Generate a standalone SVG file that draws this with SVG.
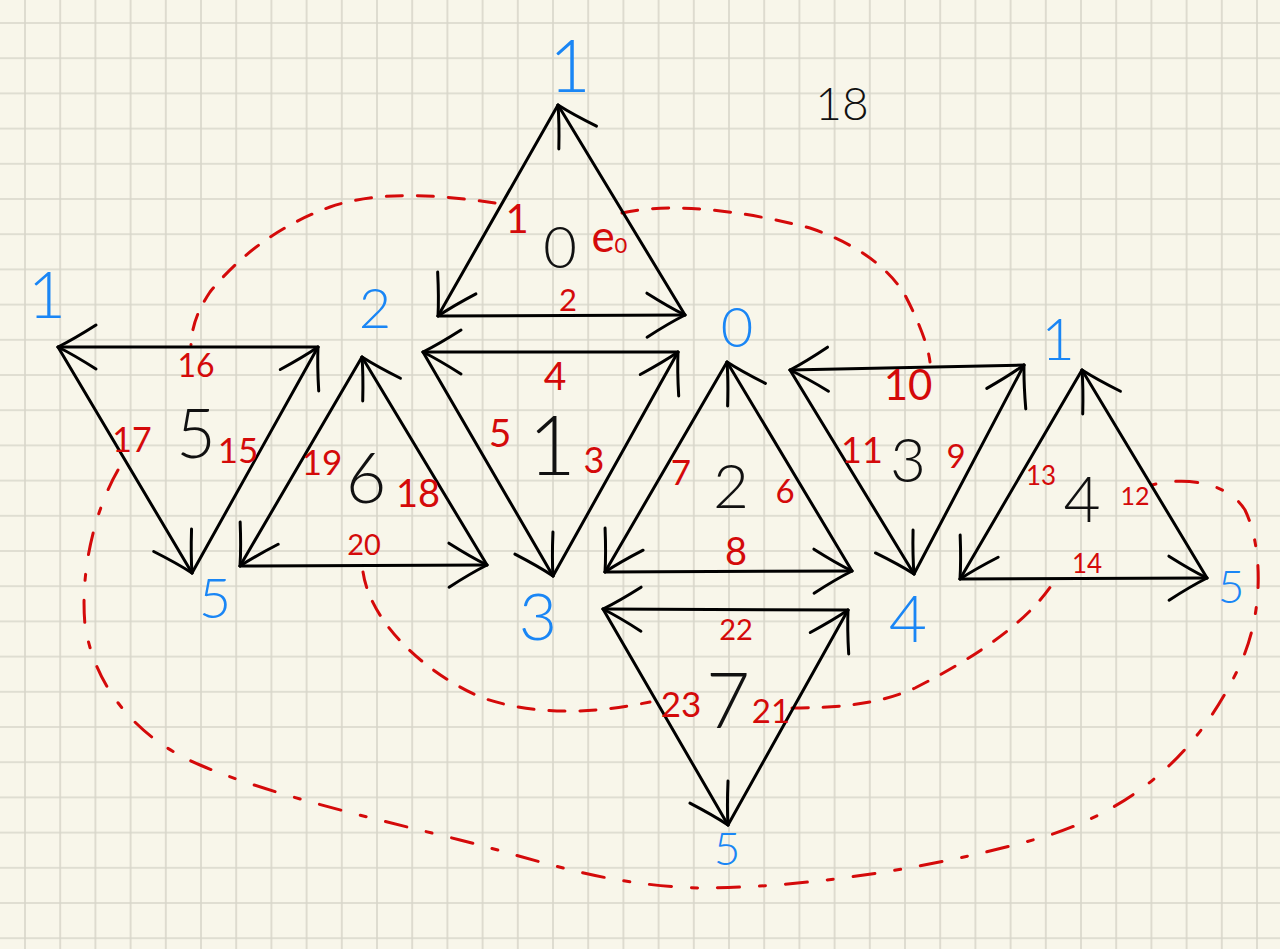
<svg xmlns="http://www.w3.org/2000/svg" width="1280" height="949" viewBox="0 0 1280 949">
<defs>
<pattern id="grid" patternUnits="userSpaceOnUse" x="7.4" y="5.4" width="35.2" height="35.2">
<path d="M17.6 0V35.2M0 17.6H35.2" stroke="#d8d6ca" stroke-width="1.6" fill="none"/>
</pattern>
<marker id="ah" markerUnits="userSpaceOnUse" markerWidth="90" markerHeight="90" viewBox="-45 -45 90 90" refX="0" refY="0" orient="auto" overflow="visible">
<path d="M-38,-22 Q-16,-8 0,0 Q-16,8 -38,22" fill="none" stroke="#000" stroke-width="3" stroke-linecap="round" stroke-linejoin="round"/>
</marker>
<style>
.e{stroke:#000;stroke-width:3;fill:none;stroke-linecap:round;marker-end:url(#ah)}
.d{stroke:#d40a0a;stroke-width:3;fill:none;stroke-linecap:round;stroke-dasharray:16 15}
.id{font-family:Lato,"Liberation Sans",Arial,sans-serif;font-weight:300;fill:#111;text-anchor:middle}
.v{font-family:Lato,"Liberation Sans",Arial,sans-serif;font-weight:300;fill:#1a86f5;text-anchor:middle}
.r{font-family:Lato,"Liberation Sans",Arial,sans-serif;font-weight:400;fill:#d40a0a;text-anchor:middle}
</style>
</defs>
<rect width="1280" height="949" fill="#f8f6ea"/>
<rect width="1280" height="949" fill="url(#grid)"/>

<g id="connectors">
<path class="d" d="M495,203 C440,195 380,190 330,207 C280,225 240,255 210,292 C198,310 192,325 191,345"/>
<path class="d" d="M622,213 C680,200 760,215 810,228 C860,245 890,270 905,295 C918,320 928,345 930,362"/>
<path class="d" d="M118,470 C95,510 80,570 85,625 C95,690 140,740 200,765 C270,795 380,820 460,840 C540,860 600,885 700,888 C820,888 960,862 1050,835 C1140,805 1200,750 1240,665 C1265,610 1262,545 1245,510 C1230,485 1190,475 1152,485" style="stroke-dasharray:22 20 6 20"/>
<path class="d" d="M363,572 C370,620 420,670 480,697 C540,718 600,712 650,702"/>
<path class="d" d="M792,708 C840,708 880,704 915,688 C980,655 1030,620 1055,580"/>
</g>

<g id="tri0">
<line class="e" x1="558" y1="105" x2="438" y2="316"/>
<line class="e" x1="438" y1="316" x2="685" y2="315"/>
<line class="e" x1="685" y1="315" x2="558" y2="105"/>
<text class="id" x="560" y="268" font-size="58">0</text>
</g>

<g id="tri1">
<line class="e" x1="678" y1="352" x2="423" y2="352"/>
<line class="e" x1="423" y1="352" x2="553" y2="576"/>
<line class="e" x1="553" y1="576" x2="678" y2="352"/>
<text class="id" x="552" y="475" font-size="82">1</text>
</g>

<g id="tri2">
<line class="e" x1="852" y1="571" x2="727" y2="362"/>
<line class="e" x1="727" y1="362" x2="605" y2="572"/>
<line class="e" x1="605" y1="572" x2="852" y2="571"/>
<text class="id" x="731" y="508" font-size="62">2</text>
</g>

<g id="tri3">
<line class="e" x1="1024" y1="365" x2="790" y2="370"/>
<line class="e" x1="790" y1="370" x2="914" y2="574"/>
<line class="e" x1="914" y1="574" x2="1024" y2="365"/>
<text class="id" x="908" y="482" font-size="62">3</text>
</g>

<g id="tri4">
<line class="e" x1="1207" y1="578" x2="1082" y2="370"/>
<line class="e" x1="1082" y1="370" x2="960" y2="579"/>
<line class="e" x1="960" y1="579" x2="1207" y2="578"/>
<text class="id" x="1082" y="522" font-size="64">4</text>
</g>

<g id="tri5">
<line class="e" x1="318" y1="347" x2="58" y2="347"/>
<line class="e" x1="58" y1="347" x2="192" y2="573"/>
<line class="e" x1="192" y1="573" x2="318" y2="347"/>
<text class="id" x="196" y="458" font-size="68">5</text>
</g>

<g id="tri6">
<line class="e" x1="487" y1="565" x2="362" y2="357"/>
<line class="e" x1="362" y1="357" x2="240" y2="566"/>
<line class="e" x1="240" y1="566" x2="487" y2="565"/>
<text class="id" x="366" y="503" font-size="70">6</text>
</g>

<g id="tri7">
<line class="e" x1="848" y1="610" x2="603" y2="609"/>
<line class="e" x1="603" y1="609" x2="728" y2="825"/>
<line class="e" x1="728" y1="825" x2="848" y2="610"/>
<text class="id" x="728" y="728" font-size="76">7</text>
</g>

<g id="note18">
<text class="id" x="842" y="120" font-size="46">18</text>
</g>

<g id="vertex-labels">
<text class="v" x="570" y="92" font-size="72">1</text>
<text class="v" x="47" y="318" font-size="66">1</text>
<text class="v" x="375" y="328" font-size="56">2</text>
<text class="v" x="737" y="347" font-size="56">0</text>
<text class="v" x="1058" y="360" font-size="58">1</text>
<text class="v" x="215" y="618" font-size="56">5</text>
<text class="v" x="538" y="640" font-size="66">3</text>
<text class="v" x="908" y="642" font-size="66">4</text>
<text class="v" x="1231" y="603" font-size="46">5</text>
<text class="v" x="727" y="865" font-size="46">5</text>
</g>

<g id="edge-labels">
<text class="r" x="517" y="233" font-size="40">1</text>
<text class="r" x="603" y="252" font-size="44">e</text>
<text class="r" x="621" y="253" font-size="22">0</text>
<text class="r" x="568" y="311" font-size="31">2</text>
<text class="r" x="555" y="390" font-size="39">4</text>
<text class="r" x="500" y="447" font-size="39">5</text>
<text class="r" x="594" y="473" font-size="36">3</text>
<text class="r" x="196" y="377" font-size="32">16</text>
<text class="r" x="132" y="452" font-size="34">17</text>
<text class="r" x="238" y="463" font-size="35">15</text>
<text class="r" x="322" y="475" font-size="35">19</text>
<text class="r" x="418" y="507" font-size="38">18</text>
<text class="r" x="364" y="555" font-size="29">20</text>
<text class="r" x="681" y="485" font-size="35">7</text>
<text class="r" x="785" y="503" font-size="33">6</text>
<text class="r" x="736" y="565" font-size="38">8</text>
<text class="r" x="908" y="400" font-size="42">10</text>
<text class="r" x="862" y="463" font-size="36">11</text>
<text class="r" x="956" y="468" font-size="33">9</text>
<text class="r" x="1041" y="485" font-size="26">13</text>
<text class="r" x="1135" y="505" font-size="25">12</text>
<text class="r" x="1087" y="573" font-size="26">14</text>
<text class="r" x="736" y="640" font-size="29">22</text>
<text class="r" x="681" y="717" font-size="35">23</text>
<text class="r" x="771" y="723" font-size="33">21</text>
</g>
</svg>
